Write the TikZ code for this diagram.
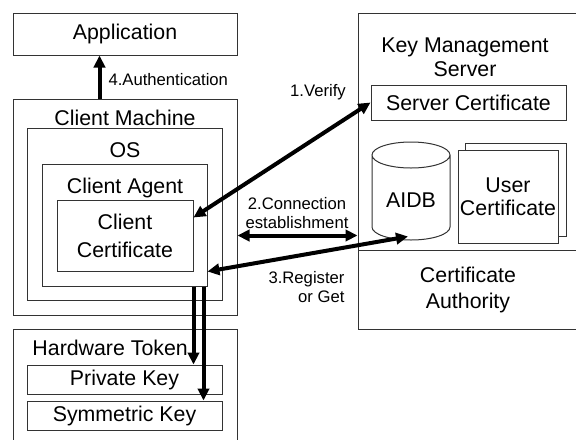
\documentclass[tikz,border=0pt]{standalone}
\usepackage{fontspec}
\setmainfont{Liberation Sans}
\usetikzlibrary{arrows.meta,calc,fit}

\tikzset{every picture/.style={line width=0.75pt}}
\tikzset{
  box/.style={draw=black!80, line width=0.75pt, inner sep=0pt},
  txt/.style={inner sep=0.75pt, font=\fontsize{16}{18}\selectfont, align=center},
  lbl/.style={inner sep=0.75pt, font=\fontsize{12.5}{14}\selectfont, align=center},
  flow/.style={line width=3pt, -{Triangle[length=9pt,width=8.5pt]}},
  twoway/.style={line width=3pt, {Triangle[length=9pt,width=8.5pt]}-{Triangle[length=9pt,width=8.5pt]}}
}

\begin{document}
\begin{tikzpicture}[x=0.75pt,y=0.75pt,yscale=-1,xscale=1]
    \useasboundingbox (0,0) rectangle (576,440);

    %Flowchart: Process [id:app]
    \node [box, fit={(13,13) (237,55)}] (app) {};
    %Flowchart: Process [id:cm]
    \node [box, fit={(13,99) (237,315)}] (cm) {};
    %Flowchart: Process [id:os]
    \node [box, fit={(27,128) (222,300)}] (os) {};
    %Flowchart: Process [id:agent]
    \node [box, fit={(42,164) (207,286)}] (agent) {};
    %Flowchart: Process [id:ccert]
    \node [box, fit={(57,200) (193,271)}] (ccert) {};

    %Flowchart: Process [id:token]
    \node [box, fit={(13,329) (237,445)}] (token) {};
    %Flowchart: Process [id:pkey]
    \node [box, fit={(27,365) (222,394)}] (pkey) {};
    %Flowchart: Process [id:skey]
    \node [box, fit={(27,401) (222,430)}] (skey) {};

    %Flowchart: Process [id:kms]
    \node [box, fit={(358,13) (580,250)}] (kms) {};
    %Flowchart: Process [id:ca]
    \node [box, fit={(358,250) (580,329)}] (ca) {};
    %Flowchart: Process [id:scert]
    \node [box, fit={(371,85) (566,120)}] (scert) {};

    %Flowchart: Magnetic Disk [id:aidb]
    \draw [draw=black!80] (450,155) -- (450,227) .. controls (450,234.2) and (432.5,240) .. (411,240) .. controls (389.5,240) and (372,234.2) .. (372,227) -- (372,155)(450,155) .. controls (450,162.2) and (432.5,168) .. (411,168) .. controls (389.5,168) and (372,162.2) .. (372,155) .. controls (372,147.8) and (389.5,142) .. (411,142) .. controls (432.5,142) and (450,147.8) .. (450,155) -- cycle ;
    \node [inner sep=0pt, fit={(372,142) (450,240)}] (aidb) {};

    %Flowchart: Multidocument [id:ucert]
    \node [box, fit={(465,143) (566,236)}] (ucback) {};
    \node [box, fill=white, fit={(458,150) (558,243)}] (ucert) {};

    %Straight Lines [id:auth]
    \coordinate (a4) at ($(cm.north west)+(87,0)$);
    \draw [flow] (a4) -- (a4 |- app.south);
    %Straight Lines [id:verify]
    \draw [twoway] ($(ccert.north east)!0.25!(ccert.south east)$) -- (scert.west);
    %Straight Lines [id:connect]
    \draw [twoway] (ccert.east -| cm.east) -- (ccert.east -| kms.west);
    %Straight Lines [id:register]
    \draw [twoway] ($(agent.south east)+(0,-15)$) -- ($(aidb.south)+(-3,-4)$);
    %Straight Lines [id:down]
    \coordinate (d1) at ($(agent.south east)+(-14,0)$);
    \coordinate (d2) at ($(agent.south east)+(-4,0)$);
    \draw [flow] (d1) -- (d1 |- pkey.north);
    \draw [flow] (d2) -- (d2 |- skey.north);

    % Text Node
    \node [txt] (apptxt) at (app.center) {Application};
    % Text Node
    \node [txt] (cmtxt) at (125,118) {Client Machine};
    % Text Node
    \node [txt] (ostxt) at (125,150) {OS};
    % Text Node
    \node [txt] (agenttxt) at (125,188) {Client Agent};
    % Text Node
    \node [txt, font=\fontsize{16}{21}\selectfont] (ccerttxt) at (ccert.center) {Client\\Certificate};
    % Text Node
    \node [txt, anchor=west] (tokentxt) at (31,348) {Hardware Token};
    % Text Node
    \node [txt] (pkeytxt) at (pkey.center) {Private Key};
    % Text Node
    \node [txt] (skeytxt) at (skey.center) {Symmetric Key};
    % Text Node
    \node [txt] (kmstxt) at (465,57) {Key Management\\Server};
    % Text Node
    \node [txt] (scerttxt) at (scert.center) {Server Certificate};
    % Text Node
    \node [txt] (aidbtxt) at (411,200) {AIDB};
    % Text Node
    \node [txt, font=\fontsize{16}{17.5}\selectfont] (ucerttxt) at (ucert.center) {User\\Certificate};
    % Text Node
    \node [txt, font=\fontsize{16}{19.5}\selectfont] (catxt) at (468,290) {Certificate\\Authority};

    % Text Node
    \node [lbl, anchor=west] (authtxt) at (107,80) {4.Authentication};
    % Text Node
    \node [lbl] (verifytxt) at (318,92) {1.Verify};
    % Text Node
    \node [lbl] (connecttxt) at (297,213) {2.Connection\\establishment};
    % Text Node
    \node [lbl, align=right, anchor=east] (registertxt) at (346,287) {3.Register\\or Get};

\end{tikzpicture}
\end{document}
